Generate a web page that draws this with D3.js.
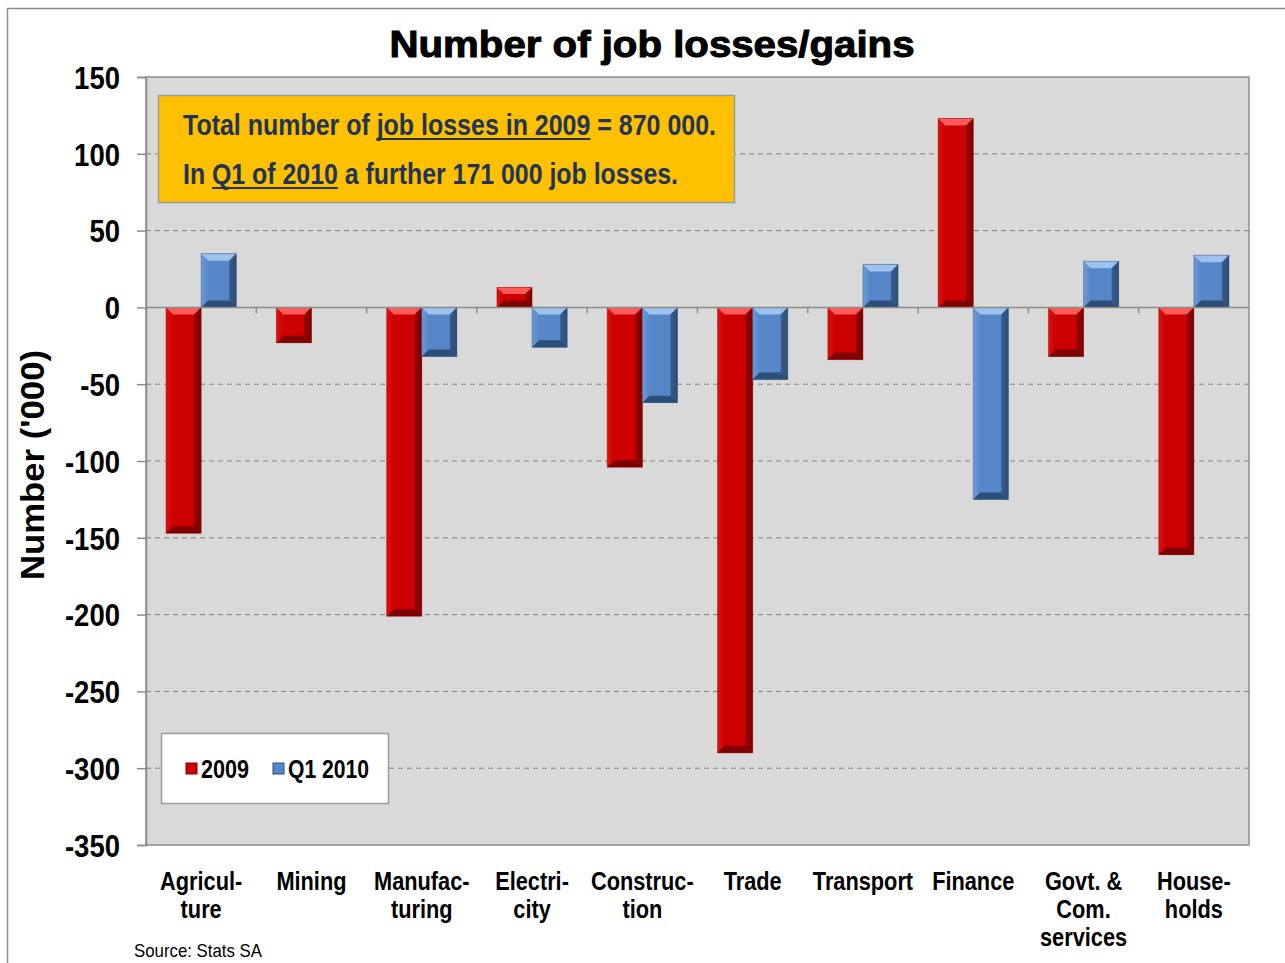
<!DOCTYPE html>
<html>
<head>
<meta charset="utf-8">
<script src="https://cdn.jsdelivr.net/npm/d3@7"></script>
<style>
  html, body { margin: 0; padding: 0; background: #fff; }
  svg { display: block; }
</style>
</head>
<body>
<svg id="chart" width="1285" height="963"></svg>
<script>
const fontFamily = `"Liberation Sans", Arial, sans-serif`;

// data (thousands of jobs)
const sectors = [
  ["Agricul-", "ture"],
  ["Mining"],
  ["Manufac-", "turing"],
  ["Electri-", "city"],
  ["Construc-", "tion"],
  ["Trade"],
  ["Transport"],
  ["Finance"],
  ["Govt. &", "Com.", "services"],
  ["House-", "holds"],
];
const losses2009 = [-147, -23, -201, 13, -104, -290, -34, 123, -32, -161];
const lossesQ12010 = [35, 0, -32, -26, -62, -47, 28, -125, 30, 34];
const seriesNames = ["2009", "Q1 2010"];
const yTicks = [150, 100, 50, 0, -50, -100, -150, -200, -250, -300, -350];

// annotation pieces: [text, underlined]
const noteLine1 = [
  ["Total number of ", false],
  ["job losses in 2009", true],
  [" = 870 000.", false],
];
const noteLine2 = [
  ["In ", false],
  ["Q1 of 2010", true],
  [" a further 171 000 job losses.", false],
];

const width = 1285;
const height = 963;
const plot = { left: 146, right: 1249, top: 77, bottom: 845 };
const narrow = 0.86; // horizontal squeeze to mimic a narrow bold face

const svg = d3.select("#chart").attr("font-family", fontFamily);

// outer frame
svg.append("rect")
  .attr("x", 7.5).attr("y", 8.5)
  .attr("width", width).attr("height", height)
  .attr("fill", "#fff")
  .attr("stroke", "#8c8c8c")
  .attr("stroke-width", 1.5);

const x = d3.scaleBand()
  .domain(d3.range(sectors.length))
  .range([plot.left, plot.right])
  .paddingInner(0).paddingOuter(0);

const y = d3.scaleLinear()
  .domain([-350, 150])
  .range([plot.bottom, plot.top]);

const inner = d3.scaleBand()
  .domain([0, 1])
  .range([0, x.bandwidth()])
  .paddingInner(0)
  .paddingOuter(0.57);

// gradients for bevel look
const defs = svg.append("defs");
const palettes = [
  { id: "red", edge: "#800000", mid: "#e01010", light: "#ff5a5a", face: "#cc0000" },
  { id: "blue", edge: "#2d4e78", mid: "#6b9bd8", light: "#9ec2ee", face: "#5587c8" },
];
palettes.forEach((p) => {
  const g = defs.append("linearGradient").attr("id", `side-${p.id}`)
    .attr("x1", 0).attr("x2", 1).attr("y1", 0).attr("y2", 0);
  g.append("stop").attr("offset", "0%").attr("stop-color", p.mid);
  g.append("stop").attr("offset", "20%").attr("stop-color", p.face);
  g.append("stop").attr("offset", "80%").attr("stop-color", p.face);
  g.append("stop").attr("offset", "100%").attr("stop-color", p.edge);
});

// plot area
svg.append("rect")
  .attr("x", plot.left).attr("y", plot.top)
  .attr("width", plot.right - plot.left)
  .attr("height", plot.bottom - plot.top)
  .attr("fill", "#d9d9d9")
  .attr("stroke", "#8c8c8c")
  .attr("stroke-width", 1.5);

// gridlines
svg.append("g")
  .selectAll("line")
  .data(yTicks.filter((d) => d !== 0 && d !== 150 && d !== -350))
  .enter()
  .append("line")
  .attr("x1", plot.left).attr("x2", plot.right)
  .attr("y1", (d) => y(d)).attr("y2", (d) => y(d))
  .attr("stroke", "#808080")
  .attr("stroke-width", 1)
  .attr("stroke-dasharray", "5,4");

// y axis
const yAxis = svg.append("g")
  .attr("transform", `translate(${plot.left},0)`)
  .call(d3.axisLeft(y).tickValues(yTicks).tickSize(9).tickFormat((d) => String(d)));
yAxis.select(".domain").attr("stroke", "#8c8c8c").attr("stroke-width", 1.5);
yAxis.selectAll(".tick line").attr("stroke", "#8c8c8c").attr("stroke-width", 1.5);
yAxis.selectAll(".tick text")
  .attr("font-family", fontFamily)
  .attr("font-size", 32)
  .attr("font-weight", "bold")
  .attr("fill", "#000")
  .attr("x", -26 / narrow)
  .attr("dy", "0.35em")
  .attr("transform", `scale(${narrow},1)`);

svg.append("text")
  .attr("transform", `translate(44, ${(plot.top + plot.bottom) / 2 + 4}) rotate(-90)`)
  .attr("text-anchor", "middle")
  .attr("font-size", 33)
  .attr("font-weight", "bold")
  .attr("textLength", 230)
  .attr("lengthAdjust", "spacingAndGlyphs")
  .text("Number ('000)");

// bars
const rows = sectors.map((s, i) => [losses2009[i], lossesQ12010[i]]);
const barGroups = svg.append("g")
  .selectAll(".sector")
  .data(rows)
  .enter()
  .append("g")
  .attr("class", "sector")
  .attr("transform", (d, i) => `translate(${x(i)},0)`);

barGroups.each(function (vals) {
  const g = d3.select(this);
  vals.forEach((v, k) => {
    if (!v) return;
    const p = palettes[k];
    const bx = inner(k);
    const bw = inner.bandwidth();
    const y0 = y(Math.max(0, v));
    const y1 = y(Math.min(0, v));
    const bh = y1 - y0;
    const bev = Math.min(7, bh / 3);
    g.append("rect")
      .attr("x", bx).attr("y", y0)
      .attr("width", bw).attr("height", bh)
      .attr("fill", `url(#side-${p.id})`);
    // top bevel
    g.append("path")
      .attr("d", `M${bx},${y0}L${bx + bw},${y0}L${bx + bw - bev},${y0 + bev}L${bx + bev},${y0 + bev}Z`)
      .attr("fill", p.light);
    // bottom bevel
    g.append("path")
      .attr("d", `M${bx},${y1}L${bx + bw},${y1}L${bx + bw - bev},${y1 - bev}L${bx + bev},${y1 - bev}Z`)
      .attr("fill", p.edge);
    // right side shade
    g.append("path")
      .attr("d", `M${bx + bw},${y0}L${bx + bw},${y1}L${bx + bw - bev},${y1 - bev}L${bx + bw - bev},${y0 + bev}Z`)
      .attr("fill", p.edge)
      .attr("opacity", 0.75);
    g.append("rect")
      .attr("x", bx).attr("y", y0)
      .attr("width", bw).attr("height", bh)
      .attr("fill", "none")
      .attr("stroke", p.edge)
      .attr("stroke-opacity", 0.4)
      .attr("stroke-width", 1);
  });
});

// zero line with category ticks
svg.append("line")
  .attr("x1", plot.left).attr("x2", plot.right)
  .attr("y1", y(0)).attr("y2", y(0))
  .attr("stroke", "#8c8c8c")
  .attr("stroke-width", 1.5);
svg.append("g")
  .selectAll("line")
  .data(d3.range(1, sectors.length))
  .enter()
  .append("line")
  .attr("x1", (d) => x(d)).attr("x2", (d) => x(d))
  .attr("y1", y(0)).attr("y2", y(0) + 6)
  .attr("stroke", "#8c8c8c")
  .attr("stroke-width", 1.5);

// category labels
svg.append("g")
  .attr("text-anchor", "middle")
  .attr("font-size", 25)
  .attr("font-weight", "bold")
  .selectAll("text")
  .data(sectors)
  .enter()
  .append("text")
  .attr("transform", (d, i) => `translate(${x(i) + x.bandwidth() / 2}, 890) scale(0.87,1)`)
  .selectAll("tspan")
  .data((d) => d)
  .enter()
  .append("tspan")
  .attr("x", 0)
  .attr("dy", (d, i) => (i ? 28 : 0))
  .text((d) => d);

// title
svg.append("text")
  .attr("x", 652).attr("y", 57)
  .attr("text-anchor", "middle")
  .attr("font-size", 37)
  .attr("font-weight", "bold")
  .attr("stroke", "#000")
  .attr("stroke-width", 1)
  .attr("textLength", 525)
  .attr("lengthAdjust", "spacingAndGlyphs")
  .text("Number of job losses/gains");

// annotation box
const note = svg.append("g");
note.append("rect")
  .attr("x", 158.5).attr("y", 95.5)
  .attr("width", 576).attr("height", 107)
  .attr("fill", "#ffc000")
  .attr("stroke", "#9c9c9c")
  .attr("stroke-width", 1.5);

// one text per line; underlines drawn from the glyph positions
function renderNoteLine(pieces, baseline, lineWidth) {
  const full = pieces.map((d) => d[0]).join("");
  const text = note.append("text")
    .attr("x", 183)
    .attr("y", baseline)
    .attr("font-size", 30)
    .attr("font-weight", "bold")
    .attr("fill", "#1f3456")
    .attr("textLength", lineWidth)
    .attr("lengthAdjust", "spacingAndGlyphs")
    .text(full);
  const node = text.node();
  let start = 0;
  pieces.forEach(([str, underline]) => {
    if (underline) {
      const x0 = node.getStartPositionOfChar(start).x;
      const x1 = node.getEndPositionOfChar(start + str.length - 1).x;
      note.append("line")
        .attr("x1", x0).attr("x2", x1)
        .attr("y1", baseline + 4).attr("y2", baseline + 4)
        .attr("stroke", "#1f3456")
        .attr("stroke-width", 2);
    }
    start += str.length;
  });
}
renderNoteLine(noteLine1, 135, 533);
renderNoteLine(noteLine2, 184, 495);

// legend
const legend = svg.append("g");
legend.append("rect")
  .attr("x", 161.5).attr("y", 733.5)
  .attr("width", 227).attr("height", 70)
  .attr("fill", "#fff")
  .attr("stroke", "#9c9c9c")
  .attr("stroke-width", 1.5);
const legendX = [186, 273];
const legendTextWidth = [48, 81];
const items = legend.selectAll(".item")
  .data(seriesNames)
  .enter()
  .append("g")
  .attr("class", "item")
  .attr("transform", (d, i) => `translate(${legendX[i]}, 769)`);
items.append("rect")
  .attr("x", 0).attr("y", -6)
  .attr("width", 11).attr("height", 11)
  .attr("fill", (d, i) => palettes[i].face)
  .attr("stroke", (d, i) => palettes[i].edge)
  .attr("stroke-width", 1);
items.append("text")
  .attr("x", 15).attr("y", 9)
  .attr("font-size", 26)
  .attr("font-weight", "bold")
  .attr("textLength", (d, i) => legendTextWidth[i])
  .attr("lengthAdjust", "spacingAndGlyphs")
  .text((d) => d);

// source
svg.append("text")
  .attr("x", 134).attr("y", 957)
  .attr("font-size", 19)
  .attr("textLength", 128)
  .attr("lengthAdjust", "spacingAndGlyphs")
  .text("Source: Stats SA");
</script>
</body>
</html>
